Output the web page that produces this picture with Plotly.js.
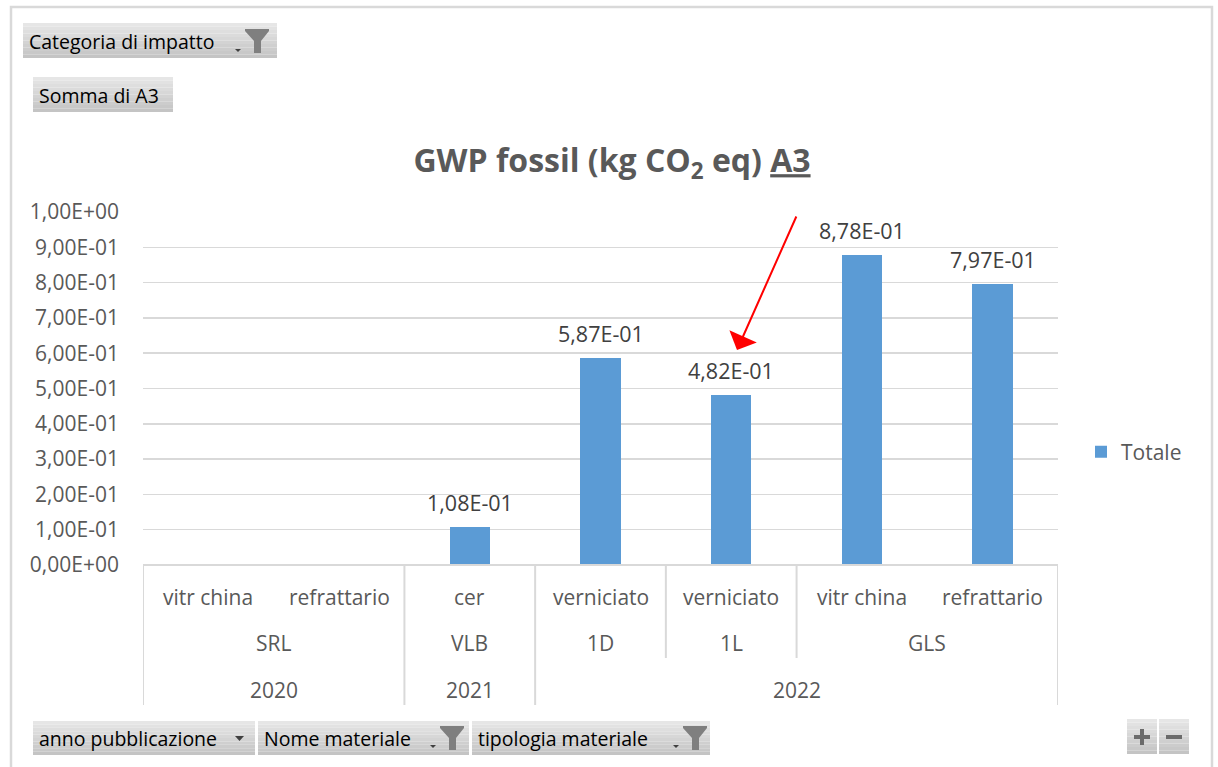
<!DOCTYPE html>
<html>
<head>
<meta charset="utf-8">
<script src="https://cdn.plot.ly/plotly-3.0.1.min.js"></script>
<style>html,body{margin:0;padding:0;background:#fff;}#chart{width:1218px;height:767px;}</style>
</head>
<body>
<div id="chart"></div>
<script>
// ---------- data ----------
const categories    = ['vitr china','refrattario','cer','verniciato','verniciato','vitr china','refrattario'];
const materialNames = ['SRL','SRL','VLB','1D','1L','GLS','GLS'];
const years         = ['2020','2020','2021','2022','2022','2022','2022'];
const totals        = [null, null, 0.108, 0.587, 0.482, 0.878, 0.797];
const yTickValues   = [0,0.1,0.2,0.3,0.4,0.5,0.6,0.7,0.8,0.9,1.0];
const yTickLabels   = ['0,00E+00','1,00E-01','2,00E-01','3,00E-01','4,00E-01','5,00E-01','6,00E-01','7,00E-01','8,00E-01','9,00E-01','1,00E+00'];
const seriesName    = 'Totale';

// ---------- helpers ----------
const FONT = 'Open Sans, Noto Sans, sans-serif';
const L = 143, R = 1058, T = 212, B = 565;
const PW = R - L, PH = B - T;
const px = p => (p - L) / PW;         // pixel x -> paper x
const py = p => (B - p) / PH;         // pixel y -> paper y

function fmt(v){
  const parts = v.toExponential(2).split('e');
  const n = parseInt(parts[1], 10);
  return parts[0].replace('.', ',') + 'E' + (n < 0 ? '-' : '+') + String(Math.abs(n)).padStart(2, '0');
}

const xIdx = categories.map((c, i) => i);

const shapes = [];
const annotations = [];

// outer frame
shapes.push({type:'rect', xref:'paper', yref:'paper', x0:px(11), x1:px(1212), y0:py(7), y1:py(790),
  line:{color:'#d9d9d9', width:2.5}, fillcolor:'rgba(0,0,0,0)', layer:'below'});

// data labels
totals.forEach((v, i) => {
  if (v === null) return;
  annotations.push({x:i, y:v, xref:'x', yref:'y', text:fmt(v), showarrow:false,
    xanchor:'center', yanchor:'bottom', yshift:8, font:{family:FONT, size:21.5, color:'#404040'}});
});

// category axis (3 levels)
shapes.push({type:'line', xref:'paper', yref:'paper', x0:0, x1:1, y0:0, y1:0, line:{color:'#d9d9d9', width:2}});
categories.forEach((c, i) => {
  annotations.push({x:i, xref:'x', y:py(597), yref:'paper', text:c, showarrow:false,
    xanchor:'center', yanchor:'middle', font:{family:FONT, size:21, color:'#595959'}});
});
function groups(keyFn){
  const g = []; let start = 0;
  for (let i = 1; i <= categories.length; i++) {
    if (i === categories.length || keyFn(i) !== keyFn(start)) { g.push([start, i - 1]); start = i; }
  }
  return g;
}
groups(i => years[i] + '|' + materialNames[i]).forEach(([a, b]) => {
  annotations.push({x:(a + b) / 2, xref:'x', y:py(643), yref:'paper', text:materialNames[a], showarrow:false,
    xanchor:'center', yanchor:'middle', font:{family:FONT, size:21, color:'#595959'}});
});
groups(i => years[i]).forEach(([a, b]) => {
  annotations.push({x:(a + b) / 2, xref:'x', y:py(690), yref:'paper', text:years[a], showarrow:false,
    xanchor:'center', yanchor:'middle', font:{family:FONT, size:21, color:'#595959'}});
});
for (let i = 0; i <= categories.length; i++) {
  const edge = (i === 0 || i === categories.length);
  let bottom = null;
  if (edge || years[i] !== years[i - 1]) bottom = 705;
  else if (materialNames[i] !== materialNames[i - 1]) bottom = 658;
  if (bottom === null) continue;
  shapes.push({type:'line', xref:'x', yref:'paper', x0:i - 0.5, x1:i - 0.5, y0:0, y1:py(bottom),
    line:{color:'#d9d9d9', width:2}});
}

// pivot field buttons
function button(x0, x1, y0, y1){
  const n = 10, top = [230,230,230], bot = [196,196,196];
  for (let k = 0; k < n; k++) {
    const t = k / (n - 1);
    const c = top.map((a, j) => Math.round(a + (bot[j] - a) * t));
    shapes.push({type:'rect', xref:'paper', yref:'paper', x0:px(x0), x1:px(x1),
      y0:py(y0 + (y1 - y0) * k / n), y1:py(y0 + (y1 - y0) * (k + 1) / n),
      line:{width:0}, fillcolor:'rgb(' + c.join(',') + ')', layer:'below'});
  }
}
function label(x, y, text, size, color){
  annotations.push({x:px(x), y:py(y), xref:'paper', yref:'paper', text:text, showarrow:false,
    xanchor:'left', yanchor:'middle', font:{family:FONT, size:size || 19.5, color:color || '#000'}});
}
function funnel(x, y){ // x,y: top-left of funnel, ~24 wide, 24 tall
  const p = [[x, y], [x + 24, y], [x + 24, y + 2], [x + 16, y + 12], [x + 16, y + 24], [x + 9, y + 24], [x + 9, y + 12], [x, y + 2]];
  shapes.push({type:'path', xref:'paper', yref:'paper',
    path:'M' + p.map(q => px(q[0]) + ',' + py(q[1])).join('L') + 'Z', fillcolor:'#7f7f7f', line:{width:0}});
}
function tri(x, y, w, h, color){
  shapes.push({type:'path', xref:'paper', yref:'paper',
    path:'M' + px(x) + ',' + py(y) + 'L' + px(x + w) + ',' + py(y) + 'L' + px(x + w / 2) + ',' + py(y + h) + 'Z',
    fillcolor:color, line:{width:0}});
}
function bar(x0, x1, y0, y1, color){
  shapes.push({type:'rect', xref:'paper', yref:'paper', x0:px(x0), x1:px(x1), y0:py(y0), y1:py(y1),
    fillcolor:color, line:{width:0}});
}

button(23, 277, 23, 58);  label(27, 41, 'Categoria di impatto'); tri(235, 49, 6, 3, '#404040'); funnel(245, 29);
button(33, 173, 77, 112); label(37, 95, 'Somma di A3');
button(33, 255, 721, 755); label(37, 738, 'anno pubblicazione'); tri(235, 736, 9, 5, '#404040');
button(258, 469, 721, 755); label(262, 738, 'Nome materiale'); tri(430, 745, 6, 3, '#404040'); funnel(440, 726);
button(472, 710, 721, 755); label(476, 738, 'tipologia materiale'); tri(673, 745, 6, 3, '#404040'); funnel(683, 726);
// zoom buttons (+ / −)
button(1127, 1157, 719, 754); button(1159, 1189, 719, 754);
bar(1134, 1150, 735, 739, '#6b6b6b'); bar(1140, 1144, 729, 745, '#6b6b6b');
bar(1166, 1182, 735, 739, '#6b6b6b');

// red arrow callout
annotations.push({xref:'paper', yref:'paper', axref:'pixel', ayref:'pixel',
  x:px(737), y:py(350), ax:797 - 737, ay:215 - 350, text:'', showarrow:true,
  arrowhead:1, arrowsize:2.5, arrowwidth:2, arrowcolor:'#ff0000', standoff:0});

const trace = {
  type:'bar', x:xIdx, y:totals, name:seriesName, marker:{color:'#5b9bd5'},
  width:0.31, hoverinfo:'skip', showlegend:true
};

const layout = {
  width:1218, height:767,
  margin:{l:L, r:1218 - R, t:T, b:767 - B, pad:0},
  paper_bgcolor:'#ffffff', plot_bgcolor:'#ffffff',
  title:{text:'<b>GWP fossil (kg CO<sub>2</sub> eq) <u>A3</u></b>', font:{family:FONT, size:32, color:'#595959'},
    xref:'paper', x:px(612), xanchor:'center', yref:'container', y:1 - 161 / 767, yanchor:'middle'},
  xaxis:{range:[-0.5, 6.5], showticklabels:false, showgrid:false, zeroline:false, showline:false, ticks:'', fixedrange:true},
  yaxis:{range:[0, 1], tickvals:yTickValues, ticktext:yTickLabels, showgrid:true, gridcolor:'#d9d9d9', gridwidth:1.5,
    zeroline:false, showline:false, ticks:'', ticklabelstandoff:23,
    tickfont:{family:FONT, size:21, color:'#595959'}, fixedrange:true},
  showlegend:true,
  legend:{x:px(1081), xanchor:'left', y:py(452), yanchor:'middle', bgcolor:'rgba(0,0,0,0)',
    font:{family:FONT, size:21, color:'#595959'}},
  shapes:shapes, annotations:annotations, bargap:0
};

Plotly.newPlot('chart', [trace], layout, {displayModeBar:false, staticPlot:true});
</script>
</body>
</html>
